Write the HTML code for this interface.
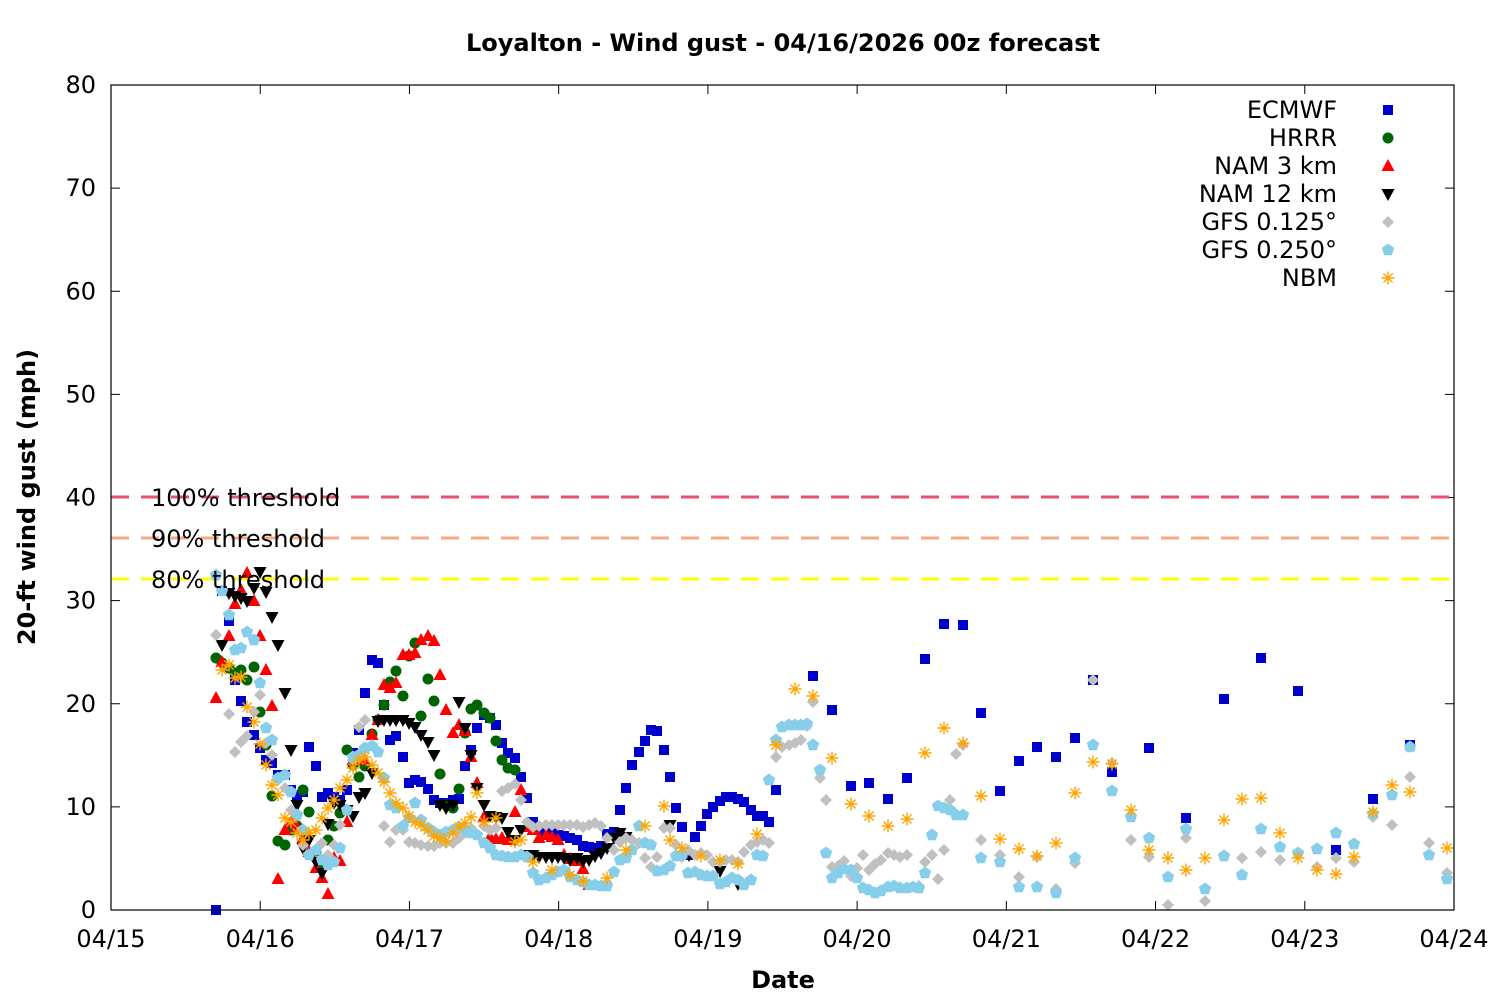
<!DOCTYPE html>
<html><head><meta charset="utf-8"><style>
html,body{margin:0;padding:0;background:#fff;}
svg{display:block;font-family:"DejaVu Sans","Liberation Sans",sans-serif;}
</style></head><body>
<svg id="s" width="1500" height="1000" xmlns="http://www.w3.org/2000/svg">
<rect x="0" y="0" width="1500" height="1000" fill="#fff"/>
<text x="783" y="51" text-anchor="middle" font-size="24" font-weight="bold">Loyalton - Wind gust - 04/16/2026 00z forecast</text>
<g id="grid"></g>
<g id="pts"></g>
<rect x="111" y="85" width="1343" height="825" fill="none" stroke="#000" stroke-width="1.2"/>
<text transform="translate(35,497) rotate(-90)" text-anchor="middle" font-size="24" font-weight="bold">20-ft wind gust (mph)</text>
<text x="783" y="988" text-anchor="middle" font-size="24" font-weight="bold">Date</text>
</svg>
<script>
const NS="http://www.w3.org/2000/svg";
const g=document.getElementById('grid'),P=document.getElementById('pts');
function el(t,a,p){const e=document.createElementNS(NS,t);for(const k in a)e.setAttribute(k,a[k]);(p||P).appendChild(e);return e;}
function txt(x,y,s,a,p){const e=el('text',Object.assign({x:x,y:y,'font-size':24},a||{}),p);e.textContent=s;return e;}
for(let v=0;v<=80;v+=10){const y=910-v*825/80;
 el('line',{x1:111,y1:y,x2:120,y2:y,stroke:'#000'},g);el('line',{x1:1445,y1:y,x2:1454,y2:y,stroke:'#000'},g);
 txt(96,y+8,String(v),{'text-anchor':'end'},g);}
const days=['04/15','04/16','04/17','04/18','04/19','04/20','04/21','04/22','04/23','04/24'];
days.forEach((d,i)=>{const x=111+i*1343/9;
 el('line',{x1:x,y1:910,x2:x,y2:901,stroke:'#000'},g);el('line',{x1:x,y1:85,x2:x,y2:94,stroke:'#000'},g);
 txt(x,947,d,{'text-anchor':'middle'},g);});
[[497,'#e8506e'],[538,'#f4a883'],[579,'#ffff00']].forEach(t=>{
 el('line',{x1:111,y1:t[0],x2:1454,y2:t[0],stroke:t[1],'stroke-width':3,'stroke-dasharray':'18,12'},g);
});
function parse(s){return s.trim().split(';').map(p=>p.split(',').map(Number));}
const sq=(x,y,c)=>el('rect',{x:x-5,y:y-5,width:10,height:10,fill:c});
const ci=(x,y,c)=>el('circle',{cx:x,cy:y,r:5.5,fill:c});
const tu=(x,y,c)=>el('polygon',{points:`${x},${y-7} ${x+6.5},${y+5} ${x-6.5},${y+5}`,fill:c});
const td=(x,y,c)=>el('polygon',{points:`${x},${y+7} ${x+6.5},${y-5} ${x-6.5},${y-5}`,fill:c});
const di=(x,y,c)=>el('polygon',{points:`${x},${y-6} ${x+6},${y} ${x},${y+6} ${x-6},${y}`,fill:c});
const hx=(x,y,c)=>{let p=[];for(let i=0;i<5;i++){const a=-Math.PI/2+i*2*Math.PI/5;p.push((x+6.5*Math.cos(a)).toFixed(1)+','+(y+6.5*Math.sin(a)).toFixed(1));}el('polygon',{points:p.join(' '),fill:c});};
const as=(x,y,c)=>{const r=6.5;el('path',{d:`M${x-r},${y}H${x+r}M${x},${y-r}V${y+r}M${x-r*.7},${y-r*.7}L${x+r*.7},${y+r*.7}M${x-r*.7},${y+r*.7}L${x+r*.7},${y-r*.7}`,stroke:c,'stroke-width':1.4,fill:'none'});};
const S=[
['ECMWF',sq,'#0000cc',"216,910;222,591;229,621;235,680;241,701;247,722;254,735;260,748;266,760;272,763;278,775;285,775;291,790;297,795;303,792;309,747;316,766;322,797;328,793;334,797;340,800;347,790;353,753;359,730;365,693;372,660;378,663;384,705;390,740;396,736;403,757;409,783;415,780;421,782;428,789;434,800;440,803;446,803;453,800;459,799;465,766;471,750;477,728;484,715;490,718;496,725;502,743;508,753;515,758;521,777;527,798;533,822;539,830;546,833;552,833;558,835;564,836;570,838;577,840;583,846;589,847;595,848;601,846;607,834;614,832;620,810;626,788;632,765;639,752;645,741;651,730;657,731;664,750;670,777;676,808;682,827;688,855;695,837;701,826;707,814;713,807;720,801;726,797;732,797;738,799;744,802;751,810;757,816;763,816;769,822;776,790;813,676;832,710;851,786;869,783;888,799;907,778;925,659;944,624;963,625;981,713;1000,791;1019,761;1037,747;1056,757;1075,738;1093,680;1112,772;1149,748;1186,818;1224,699;1261,658;1298,691;1336,850;1373,799;1410,745"],
['HRRR',ci,'#006400',"216,658;222,663;229,668;235,673;241,670;247,680;254,667;260,712;266,745;272,796;278,841;285,845;291,830;297,826;303,790;309,812;316,851;322,865;328,840;334,826;340,813;347,750;353,765;359,777;365,766;372,734;378,720;384,705;390,682;396,671;403,696;409,656;415,643;421,716;428,679;434,701;440,774;446,805;453,808;459,789;465,733;471,709;477,705;484,713;490,718;496,741;502,760;508,768;515,770"],
['NAM 3 km',tu,'#ff0000',"216,698;222,662;229,636;235,604;241,590;247,573;254,601;260,636;266,670;272,706;278,879;285,830;291,822;297,827;303,838;309,852;316,868;322,878;328,894;334,858;340,861;347,822;353,760;359,755;365,760;372,735;378,720;384,685;390,688;396,683;403,655;409,655;415,653;421,640;428,636;434,641;440,675;446,710;453,733;459,725;465,731;471,757;477,783;484,817;490,837;496,839;502,838;508,840;515,812;521,790;527,827;533,830;539,838;546,835;552,837;558,840;564,855;570,859;577,861;583,869;589,885"],
['NAM 12 km',td,'#000000',"222,645;229,593;235,596;241,598;247,601;254,588;260,572;266,592;272,617;278,645;285,693;291,750;297,805;303,848;309,840;316,862;322,873;328,824;334,803;340,805;347,810;353,816;359,797;365,793;372,773;378,721;384,720;390,720;396,720;403,720;409,723;415,727;421,735;428,742;434,755;440,805;446,808;453,805;459,702;465,728;471,755;477,788;484,805;490,816;496,817;502,818;508,832;515,840;521,830;527,855;533,855;539,857;546,857;552,857;558,857;564,858;570,860;577,858;583,861;589,860;595,856;601,853;607,848;614,838;620,833;626,837;670,825;689,855;720,871;738,884"],
['GFS 0.125°',di,'#c0c0c0',"216,635;229,714;235,752;241,742;247,736;254,712;260,695;266,743;272,755;278,780;285,788;291,810;297,815;303,845;316,850;322,843;328,855;334,845;340,825;347,810;353,760;359,727;365,720;372,745;384,826;390,842;396,830;403,830;409,842;415,843;421,845;428,846;434,846;440,843;446,843;453,843;459,838;465,833;471,828;484,826;490,830;496,828;502,791;508,788;515,784;521,800;527,822;533,827;539,826;546,825;552,825;558,825;564,825;570,825;577,825;583,827;589,825;595,823;601,826;607,838;614,850;620,842;626,838;632,840;639,843;645,858;651,867;657,857;664,828;670,828;676,845;682,857;688,850;695,855;701,853;707,855;713,862;720,862;726,860;732,860;738,862;744,852;751,845;757,842;763,840;769,843;776,757;782,747;789,745;795,743;801,740;807,726;813,702;820,778;826,800;832,867;838,866;844,861;851,876;857,868;863,855;869,870;875,864;881,860;888,853;894,855;900,857;907,855;919,886;925,862;932,855;938,879;944,850;950,800;956,754;963,745;981,840;1000,855;1019,877;1037,857;1056,889;1075,863;1093,680;1112,763;1131,840;1149,857;1168,905;1186,838;1205,901;1242,858;1261,852;1280,860;1298,853;1317,867;1336,858;1354,862;1373,817;1392,825;1410,777;1429,843;1447,873"],
['GFS 0.250°',hx,'#87ceeb',"216,575;222,591;229,615;235,650;241,648;247,632;254,640;260,683;266,728;272,740;278,778;285,775;291,792;297,815;303,830;309,855;316,850;322,860;328,865;334,862;340,848;347,810;353,757;359,755;365,748;372,746;378,752;384,778;390,805;396,808;403,826;409,818;415,803;421,820;428,828;434,832;440,835;446,832;453,830;459,827;465,830;471,833;477,835;484,843;490,848;496,855;502,856;508,857;515,857;521,855;527,857;533,873;539,880;546,878;552,875;558,872;564,870;570,877;577,880;583,882;589,885;595,885;601,886;607,886;614,872;620,860;626,858;632,850;639,826;645,843;651,845;657,871;664,870;670,866;676,856;682,855;688,873;695,872;701,875;707,876;713,876;720,884;726,882;732,878;738,880;744,885;751,880;757,855;763,856;769,780;776,740;782,727;789,725;795,725;801,725;807,724;813,745;820,770;826,853;832,878;838,873;844,869;851,870;857,878;863,888;869,890;875,893;881,891;888,887;894,886;900,888;907,888;913,887;919,888;925,873;932,835;938,806;944,808;950,810;956,815;963,815;981,858;1000,862;1019,887;1037,887;1056,893;1075,858;1093,745;1112,791;1131,817;1149,838;1168,877;1186,829;1205,889;1224,856;1242,875;1261,829;1280,847;1298,853;1317,849;1336,833;1354,844;1373,814;1392,795;1410,747;1429,855;1447,879"],
['NBM',as,'#ffa500',"222,670;229,665;235,678;241,677;247,707;254,722;260,744;266,765;272,785;278,795;285,818;291,822;297,833;303,840;309,833;316,830;322,818;328,808;334,800;340,788;347,780;353,768;359,760;365,757;372,765;378,773;384,782;390,793;396,803;403,808;409,816;415,822;421,825;428,830;434,836;440,838;446,841;453,833;459,827;465,823;471,817;477,793;484,822;496,818;515,842;521,840;533,862;552,870;570,875;583,881;607,878;626,850;645,826;664,806;670,840;682,848;701,856;720,860;738,864;757,834;776,745;795,689;813,696;832,758;851,804;869,816;888,826;907,819;925,753;944,728;963,743;981,796;1000,839;1019,849;1037,856;1056,843;1075,793;1093,762;1112,764;1131,810;1149,850;1168,858;1186,870;1205,858;1224,820;1242,799;1261,798;1280,833;1298,858;1317,870;1336,874;1354,857;1373,812;1392,785;1410,792;1447,848"]
];
S.forEach((s,i)=>{parse(s[3]).forEach(p=>s[1](p[0],p[1],s[2]));
 const ly=110+i*28;txt(1337,ly+8,s[0],{'text-anchor':'end'});s[1](1388,ly,s[2]);});
txt(151,506,'100% threshold');txt(151,547,'90% threshold');txt(151,588,'80% threshold');
</script>
</body></html>
